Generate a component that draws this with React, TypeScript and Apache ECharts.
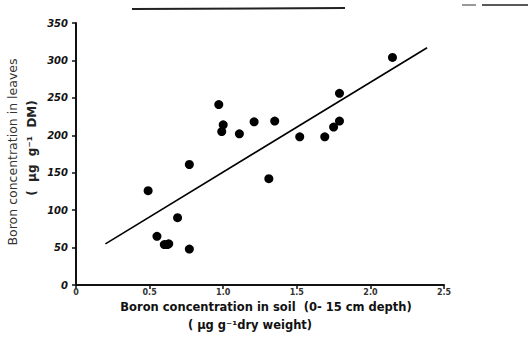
import React, { useEffect, useRef } from "react";
import * as echarts from "echarts";

const soilB = [0.49, 0.55, 0.6, 0.62, 0.63, 0.69, 0.77, 0.77, 0.97, 1.0, 0.99, 1.11, 1.21, 1.31, 1.35, 1.52, 1.69, 1.75, 1.79, 1.79, 2.15];
const leafB = [126, 65, 54, 54, 55, 90, 48, 161, 241, 214, 205, 202, 218, 142, 219, 198, 198, 211, 219, 256, 304];
const fitX = [0.2, 2.385];
const fitY = [55, 317];
const xTicks = ["0", "0.5", "1.0", "1.5", "2.0", "2.5"];

export default function App() {
  const ref = useRef<HTMLDivElement>(null);
  useEffect(() => {
    if (!ref.current) return;
    const chart = echarts.init(ref.current, undefined, { renderer: "svg" });
    const font = "DejaVu Sans";
    chart.setOption({
      animation: false,
      backgroundColor: "#ffffff",
      grid: { left: 76, right: 84, top: 23, bottom: 64 },
      xAxis: {
        type: "value",
        min: 0,
        max: 2.5,
        interval: 0.5,
        axisLine: { lineStyle: { color: "#111", width: 2 } },
        axisTick: { show: true, length: 4, lineStyle: { color: "#111", width: 1.5 } },
        splitLine: { show: false },
        axisLabel: {
          margin: 3,
          color: "#333",
          fontFamily: font,
          fontSize: 8,
          fontWeight: "bold",
          formatter: (v: number) => xTicks[Math.round(v / 0.5)] ?? "",
        },
      },
      yAxis: {
        type: "value",
        min: 0,
        max: 350,
        interval: 50,
        axisLine: { show: true, lineStyle: { color: "#111", width: 2 } },
        axisTick: { show: true, length: 4, lineStyle: { color: "#111", width: 1.5 } },
        splitLine: { show: false },
        axisLabel: {
          margin: 8,
          color: "#111",
          fontFamily: font,
          fontSize: 10,
          fontWeight: "bold",
          fontStyle: "italic",
        },
      },
      series: [
        {
          type: "scatter",
          data: soilB.map((x, i) => [x, leafB[i]]),
          symbol: "circle",
          symbolSize: 9,
          itemStyle: { color: "#000", opacity: 1 },
        },
        {
          type: "line",
          data: fitX.map((x, i) => [x, fitY[i]]),
          symbol: "none",
          lineStyle: { color: "#000", width: 1.6 },
        },
      ],
      graphic: [
        { type: "line", shape: { x1: 132, y1: 9, x2: 345, y2: 8 }, style: { stroke: "#222", lineWidth: 2 } },
        { type: "line", shape: { x1: 462, y1: 5, x2: 476, y2: 5 }, style: { stroke: "#555", lineWidth: 1.2 } },
        { type: "line", shape: { x1: 482, y1: 5, x2: 528, y2: 5 }, style: { stroke: "#222", lineWidth: 1.6 } },
        {
          type: "text",
          x: 12,
          y: 152,
          rotation: Math.PI / 2,
          style: {
            text: "Boron concentration in leaves",
            font: `12.5px '${font}'`,
            fill: "#333",
            textAlign: "center",
            textVerticalAlign: "middle",
          },
        },
        {
          type: "text",
          x: 32,
          y: 148,
          rotation: Math.PI / 2,
          style: {
            text: "(  \u00b5g  g\u207b\u00b9  DM)",
            font: `bold 12px '${font}'`,
            fill: "#222",
            textAlign: "center",
            textVerticalAlign: "middle",
          },
        },
        {
          type: "text",
          x: 266,
          y: 307,
          style: {
            text: "Boron concentration in soil  (0- 15 cm depth)",
            font: `bold 11.5px '${font}'`,
            fill: "#111",
            textAlign: "center",
            textVerticalAlign: "middle",
          },
        },
        {
          type: "text",
          x: 250,
          y: 325,
          style: {
            text: "( \u00b5g g\u207b\u00b9dry weight)",
            font: `bold 11.5px '${font}'`,
            fill: "#111",
            textAlign: "center",
            textVerticalAlign: "middle",
          },
        },
      ],
    });
    return () => chart.dispose();
  }, []);
  return <div ref={ref} style={{ width: 528, height: 349, position: "absolute", left: 0, top: 0 }} />;
}
